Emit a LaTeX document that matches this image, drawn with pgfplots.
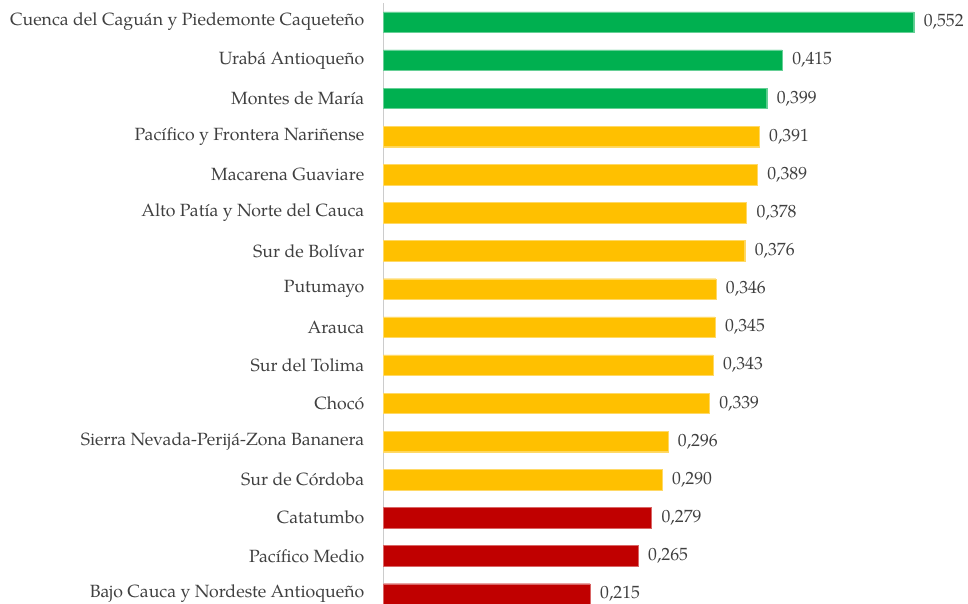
\documentclass[border=0pt]{standalone}
\usepackage{fontspec}
\setmainfont{TeX Gyre Pagella}
\usepackage{pgfplots}
\pgfplotsset{compat=1.18}
\definecolor{cgreen}{HTML}{00B050}
\definecolor{camber}{HTML}{FFC000}
\definecolor{cred}{HTML}{C00000}
\definecolor{ctext}{HTML}{404040}
\begin{document}
\begin{tikzpicture}[x=1pt,y=1pt]
\begin{axis}[
  at={(383.5pt,0.5pt)}, anchor=south west,
  scale only axis, width=576.3pt, height=600.5pt,
  xbar, bar width=20.5pt,
  xmin=0, xmax=0.6,
  ymin=-0.25, ymax=15.5,
  axis x line=none,
  axis y line*=left,
  y axis line style={draw=black!20, line width=0.8pt},
  ytick={0,...,15},
  yticklabels={Bajo Cauca y Nordeste Antioqueño,Pacífico Medio,Catatumbo,Sur de Córdoba,Sierra Nevada-Perijá-Zona Bananera,Chocó,Sur del Tolima,Arauca,Putumayo,Sur de Bolívar,Alto Patía y Norte del Cauca,Macarena Guaviare,Pacífico y Frontera Nariñense,Montes de María,Urabá Antioqueño,Cuenca del Caguán y Piedemonte Caqueteño},
  major tick length=0pt,
  yticklabel style={font=\fontsize{17.7}{20}\selectfont, text=ctext, inner sep=0pt, xshift=-19pt},
  nodes near coords,
  nodes near coords style={font=\fontsize{17.7}{20}\selectfont, text=ctext, inner sep=0pt, xshift=10pt, anchor=west,
    /pgf/number format/.cd, use comma, fixed, fixed zerofill, precision=3, assume math mode=true},
  every axis plot/.append style={bar shift=0pt, line width=0.3pt},
  clip=false,
]
\addplot[fill=cred, draw=cred!60!white] coordinates {(0.215,0) (0.265,1) (0.279,2)};
\addplot[fill=camber, draw=camber!60!white] coordinates {(0.290,3) (0.296,4) (0.339,5) (0.343,6) (0.345,7) (0.346,8) (0.376,9) (0.378,10) (0.389,11) (0.391,12)};
\addplot[fill=cgreen, draw=cgreen!60!white] coordinates {(0.399,13) (0.415,14) (0.552,15)};
\end{axis}
\pgfresetboundingbox
\useasboundingbox (0,0) rectangle (968pt,604pt);
\end{tikzpicture}
\end{document}
